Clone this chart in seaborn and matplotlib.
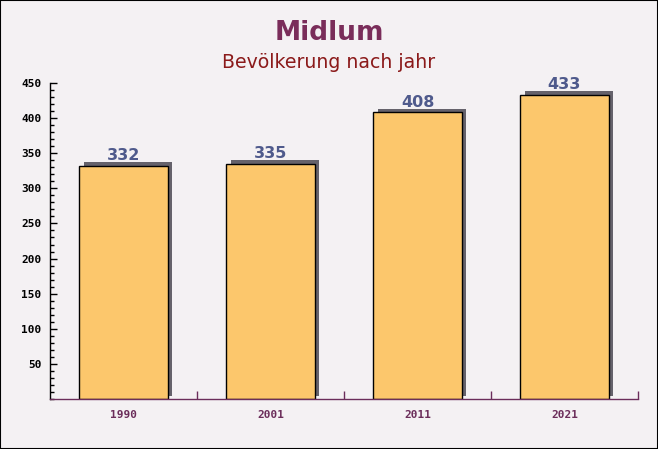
import matplotlib
matplotlib.use("Agg")
import matplotlib.pyplot as plt
import matplotlib.patheffects as pe
from matplotlib.ticker import MultipleLocator
import seaborn as sns
import pandas as pd

years = ["1990", "2001", "2011", "2021"]
population = [332, 335, 408, 433]
title = "Midlum"
subtitle = "Bevölkerung nach jahr"

df = pd.DataFrame({"year": years, "pop": population})

sns.set_theme(style="white")
plt.rcParams["font.family"] = ["DejaVu Sans"]

bg = "#f4f1f3"
fig = plt.figure(figsize=(6.58, 4.49), dpi=100, facecolor=bg)
ax = fig.add_axes([50/658, 50/449, 588/658, 316/449])
ax.set_facecolor(bg)

sns.barplot(data=df, x="year", y="pop", ax=ax, color="#fcc76c", width=0.6,
            edgecolor="black", linewidth=1, saturation=1)
for p in ax.patches:
    p.set_path_effects([pe.SimplePatchShadow(offset=(3, 2.5), shadow_rgbFace="#55525c", alpha=0.9),
                        pe.Normal()])

for i, v in enumerate(population):
    ax.text(i, v + 4, str(v), ha="center", va="bottom", fontsize=11.5,
            fontweight="bold", color="#4f5a8c", family="DejaVu Sans")

ax.set_xlim(-0.5, 3.5)
ax.set_ylim(0, 450)
ax.set_xlabel("")
ax.set_ylabel("")
ax.yaxis.set_minor_locator(MultipleLocator(10))
yt = [50, 100, 150, 200, 250, 300, 350, 400, 450]
ax.set_yticks(yt)
ax.set_yticklabels([str(t) for t in yt],
                   family="DejaVu Sans Mono", fontweight="bold", fontsize=8, color="black")
ax.set_xticks([0, 1, 2, 3])
ax.set_xticklabels(years, family="DejaVu Sans Mono", fontweight="bold", fontsize=8, color="#6b2d5a")
ax.set_xticks([0.5, 1.5, 2.5, 3.5], minor=True)
ax.tick_params(axis="y", which="major", direction="in", length=5, width=1, color="black", left=True, pad=6)
ax.tick_params(axis="y", which="minor", direction="in", length=3, width=1, color="black", left=True)
ax.tick_params(axis="x", which="major", length=0, pad=8)
ax.tick_params(axis="x", which="minor", direction="in", length=6, width=1, color="#6b2d5a", bottom=True)

for s in ["top", "right"]:
    ax.spines[s].set_visible(False)
ax.spines["left"].set_color("black")
ax.spines["left"].set_linewidth(1)
ax.spines["bottom"].set_color("#6b2d5a")
ax.spines["bottom"].set_linewidth(1)

fig.text(0.5, 1 - 33/449, title, ha="center", va="center", fontsize=19,
         fontweight="bold", color="#7a2d5a")
fig.text(0.5, 1 - 63/449, subtitle, ha="center", va="center", fontsize=13.6,
         color="#8b1a1a")

border = plt.Rectangle((0, 0), 1, 1, transform=fig.transFigure, fill=False,
                       edgecolor="black", linewidth=1.5)
fig.patches.append(border)

fig.savefig("out.png", dpi=100, facecolor=bg)
